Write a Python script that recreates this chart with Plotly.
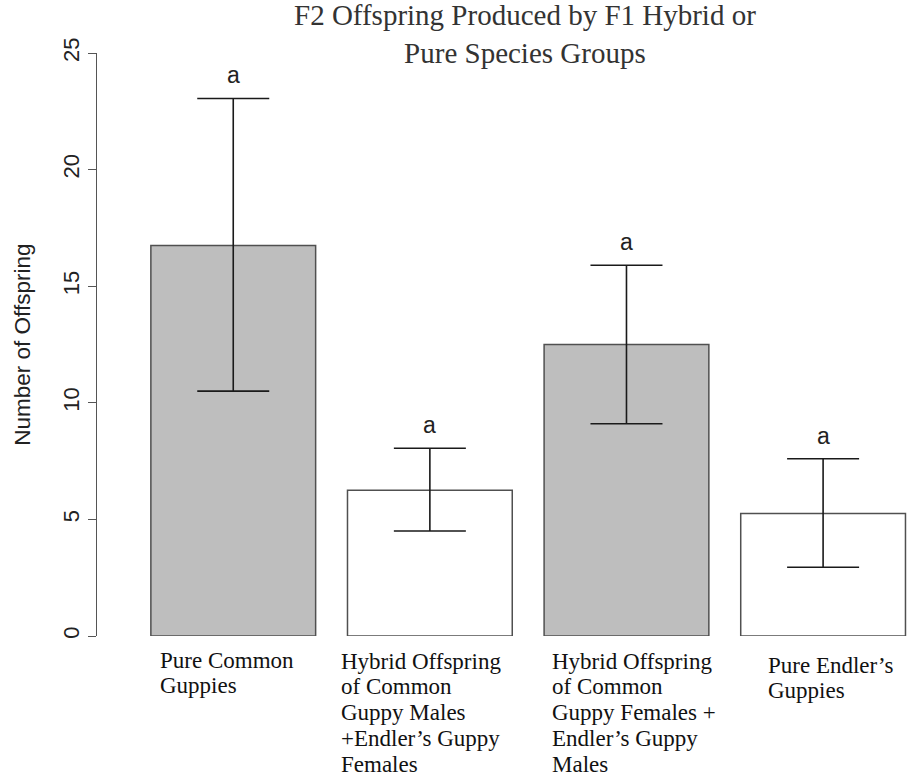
import plotly.graph_objects as go

# ---- data ----
categories = [
    "Pure Common Guppies",
    "Hybrid Offspring of Common Guppy Males +Endler's Guppy Females",
    "Hybrid Offspring of Common Guppy Females + Endler's Guppy Males",
    "Pure Endler's Guppies",
]
label_lines = [
    ["Pure Common", "Guppies"],
    ["Hybrid Offspring", "of Common", "Guppy Males", "+Endler\u2019s Guppy", "Females"],
    ["Hybrid Offspring", "of Common", "Guppy Females +", "Endler\u2019s Guppy", "Males"],
    ["Pure Endler\u2019s", "Guppies"],
]
means = [16.75, 6.25, 12.5, 5.25]
upper = [23.05, 8.05, 15.9, 7.6]
lower = [10.5, 4.5, 9.1, 2.95]
letters = ["a", "a", "a", "a"]
y_ticks = [0, 5, 10, 15, 20, 25]
title_text = "F2 Offspring Produced by F1 Hybrid or<br>Pure Species Groups"

fill_colors = ["#bebebe", "#ffffff", "#bebebe", "#ffffff"]
label_xshift = [-75, -91, -76, -57]
label_yfirst = [-24, -25, -25, -29]

xs = list(range(len(categories)))

fig = go.Figure()
fig.add_trace(go.Bar(
    x=xs, y=means, width=0.838,
    marker=dict(color=fill_colors, line=dict(color="#505050", width=1.5)),
    error_y=dict(type="data", symmetric=False,
                 array=[u - m for u, m in zip(upper, means)],
                 arrayminus=[m - l for m, l in zip(means, lower)],
                 color="#1a1a1a", thickness=1.6, width=36),
    cliponaxis=False,
    hovertext=categories,
    showlegend=False,
))

ann = []
for i in xs:
    ann.append(dict(x=i, y=upper[i], xref="x", yref="y", text=letters[i],
                    showarrow=False, yanchor="bottom", yshift=8,
                    font=dict(family="Liberation Sans, Arial, sans-serif", size=23, color="#222")))
    for j, line in enumerate(label_lines[i]):
        ann.append(dict(x=i, y=0, xref="x", yref="y", text=line, showarrow=False,
                        xanchor="left", yanchor="middle", xshift=label_xshift[i],
                        yshift=label_yfirst[i] - 25.75 * j,
                        font=dict(family="Liberation Serif, Times New Roman, serif", size=23, color="#111")))

ann.append(dict(x=-0.092, y=0.5, xref="paper", yref="paper", text="Number of Offspring",
                showarrow=False, textangle=-90, xanchor="center", yanchor="middle",
                font=dict(family="Liberation Sans, Arial, sans-serif", size=22.5, color="#222")))

ann.append(dict(x=0.526, y=1, xref="paper", yref="paper", text=title_text,
                showarrow=False, xanchor="center", yanchor="bottom", yshift=-18,
                font=dict(family="Liberation Serif, Times New Roman, serif", size=29, color="#333")))

fig.update_layout(
    width=910, height=782,
    margin=dict(l=97, r=0, t=53, b=146),
    paper_bgcolor="white", plot_bgcolor="white",
    xaxis=dict(range=[-0.693, 3.442], visible=False),
    yaxis=dict(range=[0, 25], tickvals=y_ticks, ticktext=[str(v) for v in y_ticks],
               showline=True, linecolor="#555", linewidth=1.3,
               ticks="outside", ticklen=8, tickcolor="#555", tickwidth=1.3,
               tickangle=-90, showgrid=False, zeroline=False,
               tickfont=dict(family="Liberation Sans, Arial, sans-serif", size=22, color="#222")),
    annotations=ann,
)

fig.write_html("out.html")
